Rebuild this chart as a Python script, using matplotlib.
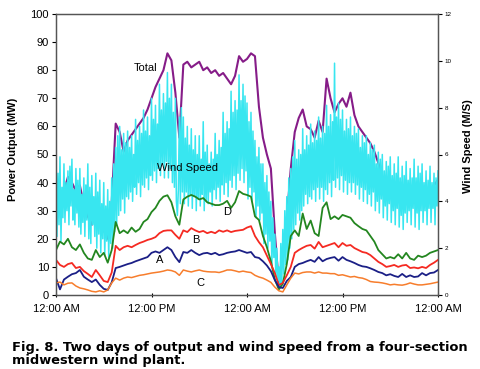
import numpy as np
import matplotlib
matplotlib.use("Agg")
import matplotlib.pyplot as plt

# ---------------- data ----------------
x_tick_labels = ["12:00 AM", "12:00 PM", "12:00 AM", "12:00 PM", "12:00 AM"]
x_tick_hours = [0, 12, 24, 36, 48]

# section outputs (MW) every 0.5 h, hour 0 .. 48
sec_A = [6, 2, 5.5, 6.5, 7.4, 7.8, 8.9, 6.5, 5.5, 4.6, 5.5, 3.6, 2.2, 1.8, 4.5, 9.6,
         10, 10.5, 11, 11.4, 12, 12.5, 13, 13.5, 15, 15.5, 15, 16, 17, 16, 13.5, 11.7,
         15.3, 15, 16, 15, 14.2, 14.8, 15, 14.5, 15, 14.2, 14.5, 15, 15.3, 15.5, 16, 15.5,
         15, 15.3, 13.5, 13.2, 12, 10.5, 8.5, 5.3, 2.8, 2.5, 5, 6.4, 10, 11,
         11.4, 12, 12.5, 11.8, 13.5, 12, 12.8, 13.2, 13.5, 12.2, 13.5, 12.5, 12, 11.4, 10.7, 10.2,
         10, 9.5, 8.9, 8.2, 7.8, 7, 7.4, 6.8, 6.4, 7.5, 6.4, 7, 6.4, 6.6, 7.8, 7, 7.8, 8, 8.9]
sec_B = [12.5, 10.7, 10, 11, 11.4, 9.6, 10, 8.5, 7.5, 6.4, 8.9, 7, 5, 4.6, 8, 17.5,
         16, 17, 17.5, 17, 17.8, 18.5, 19, 19.6, 20, 20.6, 22, 22.8, 23, 23, 21.4, 20,
         23, 22.4, 23.8, 23, 22.4, 22.8, 22, 22.5, 22, 23, 22.5, 23, 22.4, 22.8, 23, 23.2,
         24, 24.5, 21, 18.8, 17, 14, 11, 7.8, 3.5, 4.3, 7, 10, 15, 16,
         16.8, 17.5, 17.8, 16.5, 18.9, 17, 17.5, 18, 18.5, 17, 18.5, 17.5, 17.8, 16.7, 16, 15.3,
         15, 14.2, 13, 11.8, 11, 10, 10.3, 10.7, 10, 10.5, 10.7, 9.6, 9.8, 9.5, 10, 9.6, 10.7, 11.5, 12.5]
sec_C = [4.3, 4.6, 3.6, 4.2, 4.3, 3.2, 2.5, 2.2, 1.8, 1.3, 1.1, 1.5, 1.1, 1.8, 4.3, 6,
         5.3, 6, 6.4, 6.2, 6.6, 7, 7.2, 7.5, 7.8, 8, 8.2, 8.5, 8.9, 8.7, 8.2, 7,
         8.9, 8.5, 8.2, 8.6, 8.9, 8.5, 8.3, 8.2, 8.2, 8.0, 8.4, 8.9, 8.9, 8.6, 8.2, 8.5,
         8.2, 8.0, 7, 6.4, 6, 5.3, 4.5, 2.8, 1.5, 1.1, 3.6, 6, 7.8, 7.5,
         8, 8.2, 8.2, 7.8, 8.2, 7.8, 7.8, 7.6, 7.6, 7, 7.2, 6.8, 6.4, 6.6, 6.2, 6,
         5.5, 4.8, 4.6, 4.5, 4.3, 4.0, 3.6, 3.8, 3.6, 3.5, 3.8, 4.3, 3.9, 3.6, 3.6, 3.8, 4.0, 4.3, 4.6]
sec_D = [16, 19, 18, 20, 17, 16, 18, 15, 13, 12.5, 16, 13.5, 15, 11.5, 16, 26,
         22, 23, 22, 24, 22.5, 23.5, 26, 27, 29.5, 31, 33.5, 35, 35.5, 33, 28, 25,
         34, 35, 35.6, 35, 34, 34.5, 33, 32.5, 32, 32, 32.5, 33.5, 31, 33, 37, 36,
         35.6, 35, 28, 26.7, 21, 17, 12, 5.5, 2, 4, 11, 21, 23, 21,
         29, 23.5, 26.5, 22, 21, 31, 33, 27, 28, 27, 28.5, 28, 27.5, 25.6, 24.5, 23.5,
         23, 21, 19, 16, 14.5, 13, 13.5, 13, 14.5, 13, 15, 13, 12.5, 14, 13.5, 14, 15, 15.5, 16]
total = [39, 36, 37, 42, 40, 37, 39, 32, 28, 25, 31, 26, 23, 20, 33, 61,
         58, 51, 55, 57, 59, 61, 63, 66, 70, 74, 77, 80, 86, 83.5, 72, 56,
         82, 83, 81, 82, 83, 80, 81, 79, 80, 78, 79, 77, 75, 78, 85, 83,
         84, 86, 85, 67, 56, 50, 45, 22, 4, 13.5, 27, 45, 58, 63,
         66, 60, 59, 56, 62, 58, 77, 70, 65, 68, 70, 67, 72, 64, 60, 58,
         56, 54, 51, 47, 42, 38, 36, 35, 35, 34, 35, 33, 33, 34, 35, 35, 37, 39, 41]

# wind speed (m/s) every 0.125 h, hour 0 .. 48
wind = [
    6.3, 2.5, 5.2, 3.0, 5.9, 2.3, 4.6, 3.3,
    5.6, 3.1, 4.8, 3.6, 5.3, 3.0, 5.5, 3.8,
    5.8, 3.2, 4.5, 3.0, 5.4, 3.5, 4.9, 2.9,
    5.4, 2.6, 4.3, 3.1, 5.0, 2.5, 4.7, 3.2,
    5.6, 2.4, 4.6, 2.2, 5.1, 3.0, 4.2, 2.5,
    5.2, 2.0, 4.4, 2.6, 4.9, 1.8, 3.9, 2.4,
    4.8, 1.7, 3.8, 2.3, 4.5, 1.6, 4.0, 2.2,
    5.0, 2.0, 5.6, 2.7, 6.3, 3.0, 6.8, 3.4,
    7.2, 3.6, 6.2, 4.1, 6.9, 3.5, 6.5, 4.2,
    7.0, 4.1, 6.3, 4.4, 6.8, 4.0, 6.0, 4.6,
    7.5, 4.3, 6.6, 4.8, 7.2, 4.2, 6.9, 4.7,
    7.9, 4.6, 7.0, 5.0, 7.6, 4.5, 6.8, 5.1,
    8.4, 4.9, 7.5, 5.3, 8.1, 4.8, 7.3, 5.4,
    9.0, 5.1, 7.9, 5.6, 8.6, 5.0, 8.2, 5.7,
    9.5, 5.0, 8.4, 5.4, 9.0, 4.8, 7.8, 4.6,
    8.4, 4.0, 3.4, 4.5, 7.6, 3.9, 8.0, 4.4,
    7.6, 3.9, 6.7, 4.4, 7.2, 3.8, 6.4, 4.3,
    7.1, 3.7, 6.2, 4.2, 6.8, 3.6, 6.0, 4.1,
    6.8, 3.8, 5.8, 4.3, 7.4, 3.6, 6.1, 4.0,
    6.4, 3.9, 5.6, 4.4, 6.1, 3.8, 5.8, 4.5,
    6.9, 4.1, 6.0, 4.6, 6.6, 4.0, 6.3, 4.7,
    7.8, 4.3, 6.9, 4.8, 7.4, 4.2, 7.1, 4.9,
    8.7, 4.6, 7.8, 5.1, 8.3, 4.5, 7.9, 5.2,
    9.4, 4.9, 8.3, 5.4, 9.0, 4.8, 8.5, 5.3,
    8.2, 4.1, 7.4, 4.6, 7.8, 4.0, 7.0, 4.4,
    6.6, 3.3, 5.9, 3.8, 6.3, 3.2, 5.6, 3.5,
    5.6, 2.2, 4.8, 2.6, 5.1, 2.0, 4.4, 2.3,
    4.0, 1.2, 3.3, 1.6, 2.6, 0.8, 2.0, 0.6,
    1.2, 0.3, 2.2, 0.5, 2.8, 0.9, 3.6, 1.3,
    4.2, 1.5, 5.0, 2.0, 5.4, 2.4, 5.9, 2.8,
    6.6, 3.0, 5.8, 3.5, 6.2, 3.2, 6.0, 3.6,
    7.1, 3.8, 6.2, 4.3, 6.8, 3.9, 6.4, 4.2,
    7.3, 4.1, 6.5, 4.5, 7.0, 4.0, 6.6, 4.6,
    7.6, 4.1, 6.7, 4.6, 7.2, 4.0, 6.9, 4.5,
    8.1, 4.3, 7.2, 4.8, 7.7, 4.2, 7.4, 4.9,
    9.9, 4.6, 7.6, 5.0, 8.2, 4.5, 7.5, 5.1,
    7.9, 4.4, 7.0, 4.9, 7.5, 4.3, 7.1, 4.8,
    7.6, 4.4, 6.8, 4.8, 7.2, 4.3, 6.9, 4.7,
    7.1, 4.1, 6.3, 4.6, 6.8, 4.0, 6.5, 4.5,
    6.8, 3.9, 6.0, 4.3, 6.5, 3.8, 6.2, 4.4,
    6.4, 3.6, 5.6, 4.0, 6.1, 3.5, 5.8, 4.1,
    6.0, 3.3, 5.3, 3.8, 5.7, 3.2, 5.5, 3.9,
    5.9, 3.1, 5.1, 3.6, 5.6, 3.0, 5.2, 3.7,
    5.9, 2.9, 5.0, 3.4, 5.5, 2.8, 5.1, 3.5,
    5.7, 3.1, 4.9, 3.6, 5.4, 3.0, 5.0, 3.7,
    5.8, 2.9, 5.0, 3.5, 5.5, 2.8, 5.2, 3.6,
    5.6, 3.1, 4.8, 3.6, 5.3, 3.0, 4.9, 3.7,
    5.5, 3.1, 4.8, 3.7, 5.2, 3.0, 5.0, 3.8,
    5.3]

caption = ("Fig. 8. Two days of output and wind speed from a four-section\n"
           "midwestern wind plant.")

# ---------------- plotting ----------------
hours_half = np.arange(len(sec_A)) * 0.5
hours_wind = np.arange(len(wind)) * 0.125

plt.rcParams['font.family'] = ['Liberation Sans', 'DejaVu Sans']

fig = plt.figure(figsize=(4.8, 3.69), dpi=100)
ax = fig.add_axes([56/480, 74/369, 382/480, 281/369])
ax2 = ax.twinx()

ax.set_zorder(2)
ax2.set_zorder(1)
ax.patch.set_visible(False)

# total under wind, sections over wind
ax2.plot(hours_half, [v * 12/100 for v in total], color='#861C88', lw=1.5, zorder=1)
ax2.plot(hours_wind, wind, color='#38E6F0', lw=1.1, zorder=2)

ax.plot(hours_half, sec_D, color='#23861F', lw=1.3)
ax.plot(hours_half, sec_B, color='#F52A22', lw=1.3)
ax.plot(hours_half, sec_A, color='#1B1F86', lw=1.3)
ax.plot(hours_half, sec_C, color='#F77D2C', lw=1.1)

ax.set_xlim(0, 48)
ax.set_ylim(0, 100)
ax2.set_ylim(0, 12)

ax.set_xticks(x_tick_hours)
ax.set_xticklabels(x_tick_labels, fontsize=8)
ax.set_yticks(np.arange(0, 101, 10))
ax.tick_params(axis='y', labelsize=8, length=3, width=0.8, direction='out', pad=2)
ax.tick_params(axis='x', length=3, width=0.8, direction='inout', pad=5)
ax2.set_yticks(np.arange(0, 13, 2))
ax2.tick_params(axis='y', labelsize=4.5, length=3, width=0.8, direction='out', pad=2)

for a in (ax, ax2):
    for s in a.spines.values():
        s.set_color('#555555')
        s.set_linewidth(0.9)

ax.set_ylabel("Power Output (MW)", fontsize=8, fontweight='bold')
ax.yaxis.set_label_coords(-0.10, 0.52)
ax2.set_ylabel("Wind Speed (M/S)", fontsize=8, fontweight='bold')
ax2.yaxis.set_label_coords(1.066, 0.53)

ax.text(11.2, 80.8, "Total", fontsize=8, ha='center', va='center')
ax.text(16.5, 45.3, "Wind Speed", fontsize=8, ha='center', va='center')
ax.text(21.5, 29.5, "D", fontsize=8, ha='center', va='center')
ax.text(17.6, 19.6, "B", fontsize=8, ha='center', va='center')
ax.text(13.0, 12.6, "A", fontsize=8, ha='center', va='center')
ax.text(18.2, 4.3, "C", fontsize=8, ha='center', va='center')

fig.text(12/480, 1 - 341/369, caption, fontsize=9.4, fontweight='bold',
         family='DejaVu Sans', ha='left', va='top', linespacing=1.0)

fig.savefig("out.png", dpi=100)
